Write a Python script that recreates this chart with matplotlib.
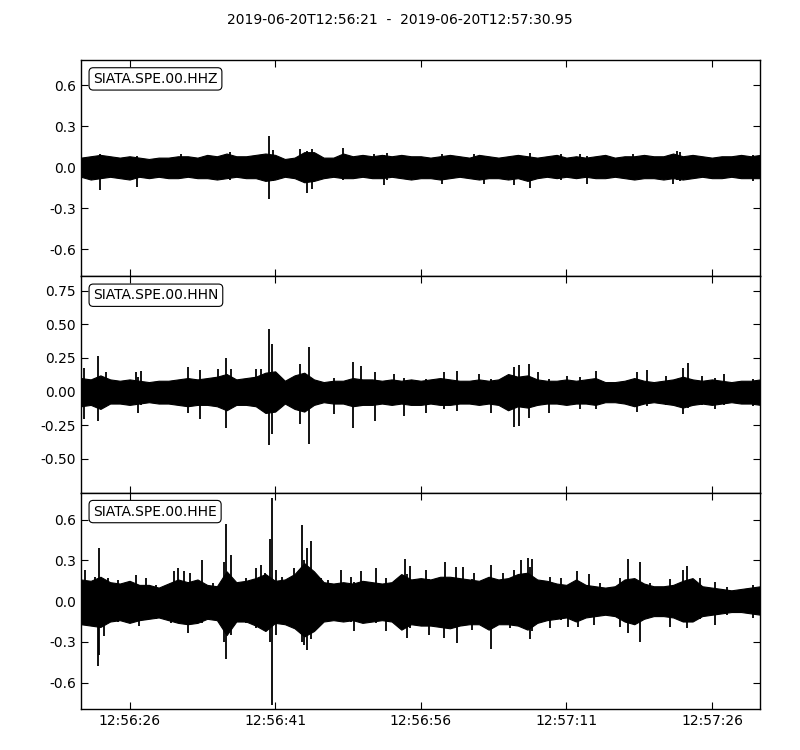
import datetime as dt
import numpy as np
import matplotlib
matplotlib.use("Agg")
import matplotlib.pyplot as plt
import matplotlib.dates as mdates

title = "2019-06-20T12:56:21  -  2019-06-20T12:57:30.95"
channels = ["SIATA.SPE.00.HHZ", "SIATA.SPE.00.HHN", "SIATA.SPE.00.HHE"]
start = dt.datetime(2019, 6, 20, 12, 56, 21)
duration = 69.95

# envelope of the dense trace, one value per second (t = 0 .. 70 s)
env_seconds = list(range(71))
hhz_upper = [0.07, 0.08, 0.09, 0.08, 0.07, 0.08, 0.07, 0.06, 0.07, 0.07,
             0.08, 0.08, 0.07, 0.09, 0.08, 0.10, 0.08, 0.08, 0.09, 0.10,
             0.09, 0.06, 0.07, 0.11, 0.11, 0.07, 0.07, 0.10, 0.08, 0.09,
             0.08, 0.09, 0.08, 0.09, 0.08, 0.08, 0.07, 0.08, 0.09, 0.08,
             0.07, 0.09, 0.08, 0.07, 0.08, 0.09, 0.08, 0.07, 0.08, 0.09,
             0.07, 0.08, 0.07, 0.08, 0.09, 0.07, 0.08, 0.08, 0.09, 0.08,
             0.08, 0.10, 0.08, 0.09, 0.08, 0.07, 0.08, 0.08, 0.09, 0.08, 0.09]
hhz_lower = [-0.07, -0.09, -0.08, -0.07, -0.08, -0.09, -0.07, -0.08, -0.07, -0.08,
             -0.08, -0.07, -0.08, -0.08, -0.09, -0.08, -0.07, -0.08, -0.08, -0.10,
             -0.09, -0.07, -0.08, -0.11, -0.10, -0.08, -0.07, -0.08, -0.08, -0.07,
             -0.08, -0.08, -0.07, -0.08, -0.09, -0.08, -0.08, -0.09, -0.08, -0.07,
             -0.08, -0.09, -0.08, -0.08, -0.09, -0.08, -0.10, -0.08, -0.07, -0.08,
             -0.07, -0.08, -0.07, -0.08, -0.08, -0.07, -0.08, -0.09, -0.08, -0.08,
             -0.09, -0.08, -0.09, -0.08, -0.07, -0.08, -0.08, -0.07, -0.08, -0.08, -0.08]
hhn_upper = [0.10, 0.09, 0.12, 0.09, 0.08, 0.09, 0.08, 0.07, 0.08, 0.08,
             0.09, 0.10, 0.09, 0.10, 0.11, 0.13, 0.09, 0.10, 0.11, 0.14,
             0.15, 0.08, 0.12, 0.14, 0.09, 0.07, 0.08, 0.08, 0.10, 0.09,
             0.09, 0.08, 0.09, 0.08, 0.09, 0.08, 0.09, 0.10, 0.09, 0.08,
             0.08, 0.09, 0.08, 0.09, 0.13, 0.11, 0.12, 0.09, 0.08, 0.08,
             0.09, 0.08, 0.09, 0.10, 0.07, 0.07, 0.08, 0.10, 0.08, 0.07,
             0.08, 0.09, 0.11, 0.09, 0.08, 0.09, 0.08, 0.07, 0.08, 0.08, 0.09]
hhn_lower = [-0.11, -0.10, -0.13, -0.09, -0.09, -0.10, -0.09, -0.08, -0.09, -0.09,
             -0.10, -0.11, -0.10, -0.10, -0.11, -0.14, -0.10, -0.10, -0.11, -0.16,
             -0.15, -0.09, -0.13, -0.15, -0.10, -0.08, -0.09, -0.09, -0.11, -0.10,
             -0.10, -0.09, -0.10, -0.09, -0.10, -0.10, -0.09, -0.10, -0.10, -0.09,
             -0.09, -0.10, -0.09, -0.10, -0.14, -0.11, -0.12, -0.10, -0.09, -0.09,
             -0.10, -0.09, -0.09, -0.10, -0.08, -0.08, -0.09, -0.11, -0.09, -0.08,
             -0.09, -0.10, -0.12, -0.10, -0.09, -0.10, -0.09, -0.08, -0.09, -0.09, -0.10]
hhe_upper = [0.16, 0.15, 0.18, 0.14, 0.13, 0.15, 0.12, 0.12, 0.10, 0.13,
             0.16, 0.14, 0.16, 0.12, 0.11, 0.22, 0.14, 0.15, 0.17, 0.20,
             0.15, 0.16, 0.20, 0.28, 0.22, 0.14, 0.13, 0.14, 0.13, 0.15,
             0.14, 0.13, 0.14, 0.20, 0.16, 0.17, 0.16, 0.18, 0.18, 0.17,
             0.16, 0.15, 0.18, 0.16, 0.17, 0.20, 0.21, 0.16, 0.15, 0.13,
             0.12, 0.16, 0.12, 0.11, 0.10, 0.11, 0.16, 0.17, 0.13, 0.11,
             0.11, 0.12, 0.15, 0.17, 0.11, 0.10, 0.09, 0.08, 0.09, 0.10, 0.11]
hhe_lower = [-0.17, -0.18, -0.19, -0.15, -0.14, -0.16, -0.14, -0.13, -0.12, -0.14,
             -0.16, -0.17, -0.16, -0.13, -0.14, -0.25, -0.15, -0.15, -0.18, -0.22,
             -0.16, -0.17, -0.20, -0.26, -0.22, -0.15, -0.14, -0.15, -0.14, -0.16,
             -0.15, -0.14, -0.15, -0.21, -0.17, -0.18, -0.18, -0.19, -0.20, -0.18,
             -0.17, -0.17, -0.21, -0.17, -0.17, -0.18, -0.21, -0.16, -0.14, -0.13,
             -0.12, -0.15, -0.12, -0.11, -0.10, -0.11, -0.15, -0.17, -0.13, -0.11,
             -0.11, -0.12, -0.15, -0.15, -0.11, -0.10, -0.09, -0.08, -0.08, -0.09, -0.10]

# individual peaks standing out of the band: time (s), max, min
hhz_spike_t = [2.0, 5.8, 10.3, 15.4, 19.4, 19.8, 22.6, 23.3, 23.8, 27.0, 30.2, 31.2,
               31.5, 37.2, 40.5, 41.5, 44.6, 46.3, 49.4, 51.4, 52.1, 56.9, 61.0,
               61.4, 61.7, 69.2]
hhz_spike_max = [0.10, 0.08, 0.10, 0.112, 0.227, 0.125, 0.13, 0.12, 0.13, 0.137, 0.10, 0.09,
                 0.105, 0.10, 0.10, 0.08, 0.08, 0.107, 0.10, 0.10, 0.08, 0.10, 0.09,
                 0.12, 0.11, 0.09]
hhz_spike_min = [-0.17, -0.143, -0.08, -0.09, -0.23, -0.10, -0.10, -0.185, -0.16, -0.09, -0.08, -0.13,
                 -0.09, -0.12, -0.08, -0.12, -0.13, -0.155, -0.09, -0.08, -0.12, -0.09, -0.12,
                 -0.09, -0.10, -0.10]

hhn_spike_t = [0.3, 1.8, 2.6, 5.7, 5.85, 6.2, 11.0, 12.3, 14.1, 14.9, 15.45, 18.0,
               18.5, 19.4, 19.7, 22.6, 23.5, 26.1, 28.05, 28.8, 30.3, 32.2, 33.3,
               35.5, 37.4, 38.7, 41.0, 42.2, 44.6, 45.1, 46.2, 47.1, 48.2, 50.1,
               51.4, 53.1, 57.3, 58.3, 60.3, 62.0, 62.5, 64.0, 65.3, 66.2, 69.2]
hhn_spike_max = [0.172, 0.266, 0.142, 0.142, 0.11, 0.154, 0.18, 0.16, 0.166, 0.246, 0.166, 0.166,
                 0.166, 0.465, 0.353, 0.204, 0.328, 0.10, 0.221, 0.191, 0.142, 0.13, 0.10,
                 0.09, 0.147, 0.154, 0.13, 0.09, 0.18, 0.196, 0.204, 0.142, 0.09, 0.117,
                 0.105, 0.154, 0.147, 0.16, 0.117, 0.172, 0.211, 0.117, 0.10, 0.13, 0.09]
hhn_spike_min = [-0.206, -0.218, -0.10, -0.10, -0.157, -0.10, -0.157, -0.206, -0.11, -0.269, -0.12, -0.11,
                 -0.12, -0.40, -0.318, -0.243, -0.393, -0.17, -0.269, -0.11, -0.218, -0.10, -0.181,
                 -0.157, -0.132, -0.144, -0.10, -0.157, -0.261, -0.256, -0.194, -0.10, -0.157, -0.10,
                 -0.132, -0.132, -0.152, -0.11, -0.10, -0.17, -0.12, -0.10, -0.132, -0.10, -0.107]

hhe_spike_t = [0.45, 1.4, 1.75, 1.9, 2.4, 2.8, 3.8, 5.7, 6.0, 6.7, 7.7, 9.3,
               9.6, 10.0, 10.65, 11.0, 11.2, 12.5, 13.6, 14.75, 14.9, 15.45, 17.0,
               18.0, 18.5, 19.0, 19.5, 19.7, 20.1, 20.75, 21.9, 22.8, 23.0, 23.3,
               23.65, 24.7, 25.4, 26.75, 27.8, 28.1, 28.8, 30.35, 31.4, 32.4, 33.4,
               33.6, 33.9, 35.0, 35.5, 35.8, 37.4, 37.5, 38.6, 38.75, 39.4, 40.3,
               40.5, 42.2, 43.5, 44.2, 44.6, 45.3, 46.1, 46.3, 46.5, 48.3, 49.4,
               50.2, 51.1, 51.25, 52.3, 52.8, 53.5, 55.5, 56.4, 57.6, 58.6, 60.7,
               62.0, 62.4, 63.8, 65.3, 66.5, 69.2]
hhe_spike_max = [0.23, 0.18, 0.15, 0.39, 0.15, 0.17, 0.157, 0.19, 0.12, 0.17, 0.12, 0.12,
                 0.219, 0.248, 0.219, 0.14, 0.206, 0.30, 0.132, 0.29, 0.57, 0.34, 0.17,
                 0.243, 0.27, 0.206, 0.46, 0.763, 0.23, 0.18, 0.243, 0.56, 0.30, 0.39,
                 0.44, 0.17, 0.157, 0.23, 0.18, 0.14, 0.219, 0.243, 0.17, 0.157, 0.31,
                 0.20, 0.257, 0.16, 0.23, 0.16, 0.18, 0.29, 0.255, 0.17, 0.255, 0.16,
                 0.21, 0.27, 0.21, 0.16, 0.23, 0.30, 0.32, 0.25, 0.314, 0.18, 0.17,
                 0.12, 0.22, 0.15, 0.20, 0.11, 0.132, 0.174, 0.314, 0.29, 0.132, 0.164,
                 0.23, 0.263, 0.17, 0.145, 0.108, 0.12]
hhe_spike_min = [-0.17, -0.15, -0.48, -0.40, -0.26, -0.16, -0.15, -0.14, -0.186, -0.14, -0.13, -0.162,
                 -0.14, -0.16, -0.15, -0.235, -0.16, -0.16, -0.14, -0.30, -0.43, -0.25, -0.16,
                 -0.20, -0.18, -0.18, -0.30, -0.763, -0.25, -0.16, -0.18, -0.30, -0.32, -0.36,
                 -0.28, -0.15, -0.14, -0.14, -0.15, -0.222, -0.15, -0.16, -0.222, -0.15, -0.20,
                 -0.27, -0.20, -0.174, -0.16, -0.247, -0.27, -0.20, -0.18, -0.31, -0.18, -0.21,
                 -0.16, -0.35, -0.16, -0.20, -0.17, -0.18, -0.20, -0.28, -0.22, -0.20, -0.14,
                 -0.194, -0.14, -0.187, -0.12, -0.174, -0.11, -0.187, -0.236, -0.30, -0.12, -0.194,
                 -0.15, -0.20, -0.13, -0.174, -0.10, -0.125]

y_ticks = [[-0.6, -0.3, 0.0, 0.3, 0.6],
           [-0.5, -0.25, 0.0, 0.25, 0.5, 0.75],
           [-0.6, -0.3, 0.0, 0.3, 0.6]]
y_fmt = ["%.1f", "%.2f", "%.1f"]
y_limits = [(-0.797, 0.783), (-0.754, 0.858), (-0.795, 0.80)]

uppers = [hhz_upper, hhn_upper, hhe_upper]
lowers = [hhz_lower, hhn_lower, hhe_lower]
spikes = [(hhz_spike_t, hhz_spike_max, hhz_spike_min),
          (hhn_spike_t, hhn_spike_max, hhn_spike_min),
          (hhe_spike_t, hhe_spike_max, hhe_spike_min)]


def to_num(secs):
    return mdates.date2num([start + dt.timedelta(seconds=float(s)) for s in secs])


plt.rcParams.update({
    "font.family": "DejaVu Sans",
    "xtick.direction": "in", "ytick.direction": "in",
    "xtick.top": True, "ytick.right": True,
    "xtick.major.size": 5, "ytick.major.size": 5,
    "xtick.minor.visible": False, "ytick.minor.visible": False,
    "axes.linewidth": 1.0,
})

fig = plt.figure(figsize=(8, 7.5), dpi=100, facecolor="white")
left, right = 81 / 800, 760 / 800
top, bottom = 1 - 60 / 750, 1 - 709 / 750
h = (top - bottom) / 3

x0 = mdates.date2num(start)
x1 = mdates.date2num(start + dt.timedelta(seconds=duration))

for i, name in enumerate(channels):
    ax = fig.add_axes([left, top - (i + 1) * h, right - left, h])
    tt = to_num(env_seconds)
    ax.fill_between(tt, lowers[i], uppers[i], color="black", lw=0.8)
    st, smax, smin = spikes[i]
    ax.vlines(to_num(st), smin, smax, color="black", lw=1.3)
    ax.set_xlim(x0, x1)
    ax.set_ylim(*y_limits[i])
    ax.set_yticks(y_ticks[i])
    ax.yaxis.set_major_formatter(plt.FormatStrFormatter(y_fmt[i]))
    ax.xaxis.set_major_locator(mdates.SecondLocator(bysecond=[11, 26, 41, 56]))
    ax.xaxis.set_major_formatter(mdates.DateFormatter("%H:%M:%S"))
    ax.tick_params(labelsize=10)
    if i < 2:
        ax.tick_params(labelbottom=False)
    ax.text(0.018, 0.945, name, transform=ax.transAxes, va="top", ha="left",
            fontsize=10,
            bbox=dict(boxstyle="round,pad=0.3", fc="white", ec="black", lw=0.8))

fig.text(0.5, 1 - 20 / 750, title, ha="center", va="center", fontsize=10)
fig.savefig("out.png", dpi=100, facecolor="white")
